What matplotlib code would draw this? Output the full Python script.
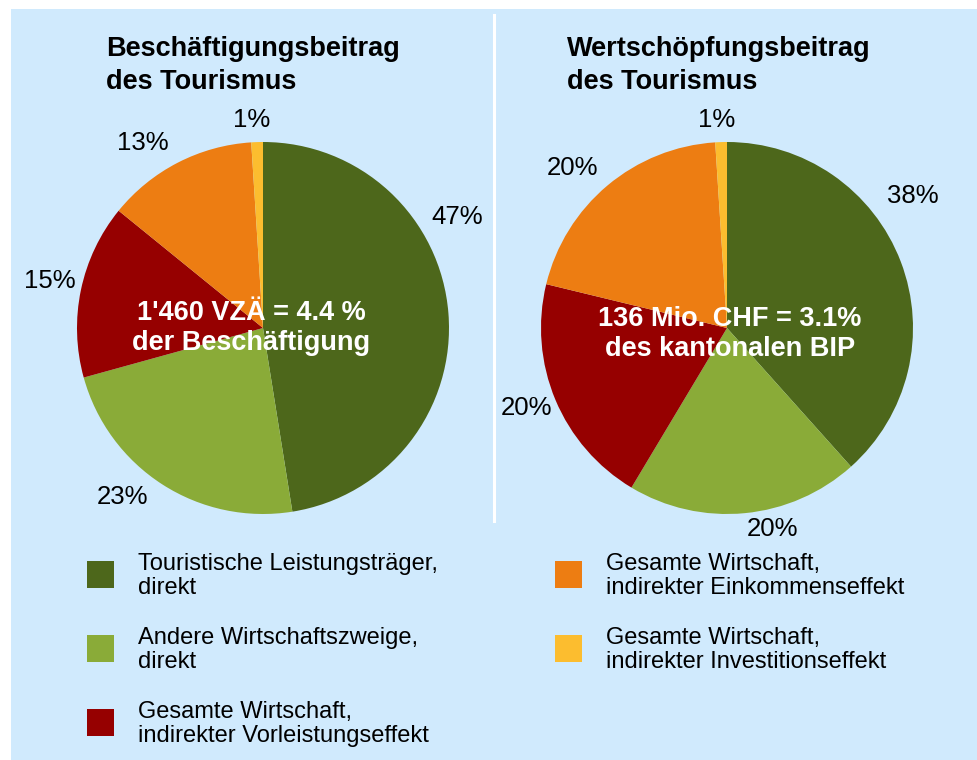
import matplotlib
matplotlib.use("Agg")
import matplotlib.pyplot as plt
from matplotlib.patches import Rectangle

plt.rcParams['font.family'] = ['Liberation Sans', 'DejaVu Sans']

# ---- data ----
categories = [
    "Touristische Leistungsträger,\ndirekt",
    "Andere Wirtschaftszweige,\ndirekt",
    "Gesamte Wirtschaft,\nindirekter Vorleistungseffekt",
    "Gesamte Wirtschaft,\nindirekter Einkommenseffekt",
    "Gesamte Wirtschaft,\nindirekter Investitionseffekt",
]
colors = ["#4d671b", "#8aab38", "#960000", "#ed7d12", "#fcbd2f"]
beschaeftigung = [47, 23, 15, 13, 1]
wertschoepfung = [38, 20, 20, 20, 1]
titles = ["Beschäftigungsbeitrag\ndes Tourismus", "Wertschöpfungsbeitrag\ndes Tourismus"]
center_texts = ["1'460 VZÄ = 4.4 %\nder Beschäftigung", "136 Mio. CHF = 3.1%\ndes kantonalen BIP"]

# ---- layout (pixels) ----
W, H = 977, 760
BG = "#d0eafd"
fig = plt.figure(figsize=(W / 100, H / 100), dpi=100)
fig.patch.set_facecolor("white")
ax = fig.add_axes([0, 0, 1, 1])

def Y(y):
    return H - y

pie_centers = [(263, 328), (727, 328)]
radius = 186
label_pos = [
    [(457, 217), (122, 497), (50, 281), (143, 143), (252, 120)],
    [(913, 196), (772, 529), (527, 408), (572, 168), (717, 120)],
]
title_pos = [(106, 36), (567, 36)]
center_text_pos = [(251, 328), (730, 334)]

for vals, c, lp, t, tp, ct, cp in zip([beschaeftigung, wertschoepfung], pie_centers,
                                       label_pos, titles, title_pos, center_texts, center_text_pos):
    ax.pie(vals, colors=colors, startangle=90, counterclock=False,
           center=(c[0], Y(c[1])), radius=radius,
           wedgeprops=dict(linewidth=0))
    for v, (x, y) in zip(vals, lp):
        ax.text(x, Y(y), f"{v}%", ha="center", va="center", fontsize=18.5, color="black")
    ax.text(tp[0], Y(tp[1]), t, ha="left", va="top", fontsize=19.5, fontweight="bold",
            linespacing=1.35, color="black")
    ax.text(cp[0], Y(cp[1]), ct, ha="center", va="center", fontsize=19.5, fontweight="bold",
            color="white", linespacing=1.22)

ax.set_xlim(0, W)
ax.set_ylim(0, H)
ax.set_aspect("auto")
ax.axis("off")

# background panel
ax.add_patch(Rectangle((11, 0), W - 11, H - 9, facecolor=BG, edgecolor="none", zorder=-10))
# divider
ax.plot([494, 494], [Y(15), Y(521)], color="white", lw=2.2, zorder=-5)

# legend
leg_pos = [(87, 561), (87, 635), (87, 709), (555, 561), (555, 635)]
for cat, col, (x, y) in zip(categories, colors, leg_pos):
    ax.add_patch(Rectangle((x, Y(y + 27)), 27, 27, facecolor=col, edgecolor="none"))
    ax.text(x + 51, Y(y + 15), cat, ha="left", va="center", fontsize=17,
            linespacing=1.12, color="black")

fig.savefig("out.png", dpi=100, facecolor=fig.get_facecolor())
